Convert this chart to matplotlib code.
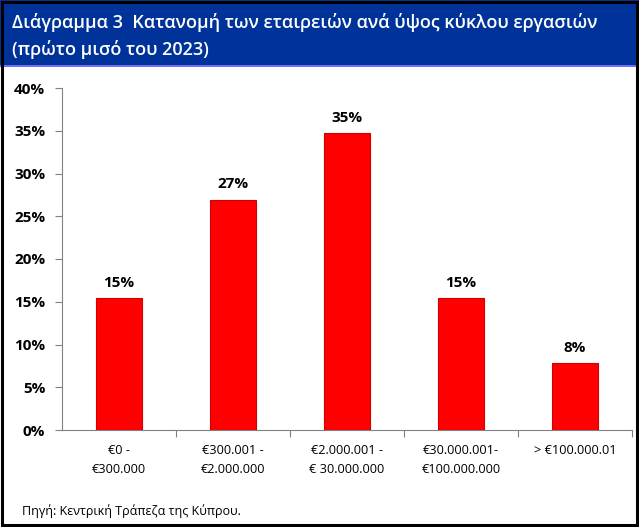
import matplotlib
matplotlib.use("Agg")
import matplotlib.pyplot as plt
from matplotlib.patches import Rectangle
from matplotlib.ticker import MultipleLocator, FuncFormatter

# ── Data ──
categories = ["€0 -\n€300.000", "€300.001 -\n€2.000.000", "€2.000.001 -\n€ 30.000.000",
              "€30.000.001-\n€100.000.000", "> €100.000.01\n"]
shares = [15.4, 26.9, 34.7, 15.4, 7.8]
labels = ["15%", "27%", "35%", "15%", "8%"]

title_lines = ["Διάγραμμα 3  Κατανομή των εταιρειών ανά ύψος κύκλου εργασιών",
               "(πρώτο μισό του 2023)"]
source = "Πηγή: Κεντρική Τράπεζα της Κύπρου."

plt.rcParams["font.family"] = ["Open Sans", "Noto Sans", "DejaVu Sans"]

fig = plt.figure(figsize=(6.39, 5.27), dpi=100)
W, H = 639, 527

# ── banner + frame ──
fig.patches.append(Rectangle((0, 1 - 65 / H), 1, 65 / H, transform=fig.transFigure,
                             facecolor="#003399", edgecolor="none", zorder=0))
fig.patches.append(Rectangle((0, 1 - 67 / H), 1, 2 / H, transform=fig.transFigure,
                             facecolor="#6F6FFF", edgecolor="none", zorder=0))
fig.patches.append(Rectangle((0.003, 0.003), 0.994, 0.994, transform=fig.transFigure,
                             facecolor="none", edgecolor="black", linewidth=2.2, zorder=5))
for line, yb in zip(title_lines, [28, 55]):
    fig.text(12 / W, 1 - yb / H, line, color="white", fontsize=13, va="baseline",
             ha="left", fontweight="semibold")

# ── axes ──
ax = fig.add_axes([62 / W, 1 - 430 / H, (632 - 62) / W, (430 - 88) / H])
x = list(range(len(categories)))
ax.bar(x, shares, width=0.4, color="#FF0000", edgecolor="#D00000", linewidth=0.8, zorder=3)
for xi, v, lab in zip(x, shares, labels):
    ax.text(xi, v + 1.0, lab, ha="center", va="bottom", fontsize=11, fontweight="bold")

ax.set_xlim(-0.5, len(categories) - 0.5)
ax.set_ylim(0, 40)
ax.yaxis.set_major_locator(MultipleLocator(5))
ax.yaxis.set_major_formatter(FuncFormatter(lambda v, p: f"{v:.0f}%"))
ax.set_xticks([i + 0.5 for i in x])
ax.set_xticklabels([])
ax.set_xticks(x, minor=True)
ax.set_xticklabels(categories, minor=True, fontsize=9.2, linespacing=1.6)
ax.tick_params(axis="x", which="minor", length=0, pad=10)
ax.tick_params(axis="x", which="major", length=5, direction="out", color="#808080")
ax.tick_params(axis="y", length=5, direction="out", color="#808080", labelsize=11, pad=7)
for t in ax.get_yticklabels():
    t.set_fontweight("bold")
for s in ["top", "right"]:
    ax.spines[s].set_visible(False)
ax.spines["left"].set_color("#808080")
ax.spines["bottom"].set_color("#808080")

fig.text(22 / W, 1 - 511 / H, source, fontsize=9, va="center", ha="left")

fig.savefig("out.png", dpi=100, facecolor="white")
